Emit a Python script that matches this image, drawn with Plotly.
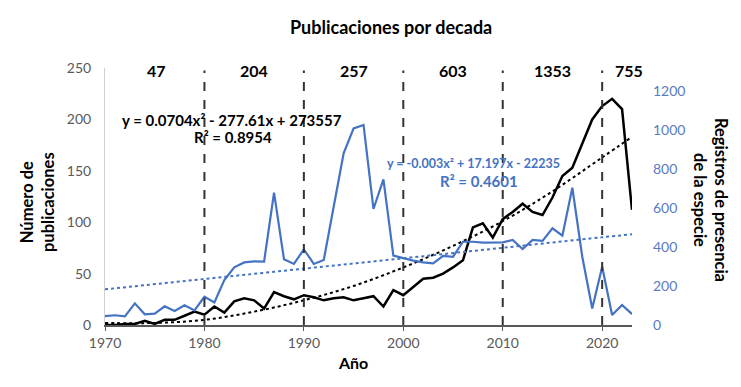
import plotly.graph_objects as go

years = list(range(1970, 2024))
publicaciones = [0, 0, 1, 1, 4, 1, 5, 5, 9, 13,
                 10, 18, 12, 23, 26, 24, 16, 32, 28, 25,
                 29, 27, 24, 26, 27, 24, 26, 28, 18, 34,
                 29, 37, 45, 46, 50, 56, 63, 95, 99, 85,
                 103, 110, 118, 110, 107, 124, 145, 153, 177, 200,
                 213, 220, 210, 112]
registros = [46, 50, 44, 111, 55, 58, 96, 72, 101, 75,
             145, 116, 230, 296, 321, 326, 325, 679, 337, 313,
             388, 313, 333, 607, 880, 1008, 1026, 595, 747, 356,
             342, 330, 321, 316, 354, 350, 427, 427, 422, 422,
             424, 436, 390, 436, 431, 496, 458, 704, 350, 85,
             299, 51, 103, 56]

# Excel polynomial trendlines
trend_pub_years = [1970, 1975, 1980, 1985, 1990, 1995, 2000, 2005, 2010, 2015, 2020, 2023]
trend_pub = [2, 2, 5, 13, 24, 38, 56, 77, 101, 130, 163, 183]
trend_reg_years = [1970, 1980, 1990, 2000, 2010, 2020, 2023]
trend_reg = [183, 236, 289, 342, 396, 450, 465]

decade_bounds = [1980, 1990, 2000, 2010, 2020]
decade_label_x = [1975.2, 1985, 1995, 2005, 2015, 2022.7]
decade_totals = ["47", "204", "257", "603", "1353", "755"]

eq_pub = ["y = 0.0704x² - 277.61x + 273557", "R² = 0.8954"]
eq_reg = ["y = -0.003x² + 17.197x - 22235", "R² = 0.4601"]

BLUE = "#4472C4"
FONT = "Lato"

# plot area in pixels
L, R, T, B = 105, 632, 68, 325

fig = go.Figure()
fig.add_trace(go.Scatter(x=years, y=registros, mode="lines", yaxis="y2",
                         line=dict(color=BLUE, width=2.2), name="Registros"))
fig.add_trace(go.Scatter(x=trend_reg_years, y=trend_reg, mode="lines", yaxis="y2",
                         line=dict(color=BLUE, width=2, dash="dot", shape="spline"),
                         name="Tendencia registros"))
fig.add_trace(go.Scatter(x=years, y=publicaciones, mode="lines",
                         line=dict(color="black", width=2.5), name="Publicaciones"))
fig.add_trace(go.Scatter(x=trend_pub_years, y=trend_pub, mode="lines",
                         line=dict(color="black", width=2, dash="dot", shape="spline"),
                         name="Tendencia publicaciones"))

shapes = []
for b in decade_bounds:
    shapes.append(dict(type="line", xref="x", yref="paper", x0=b, x1=b, y0=0, y1=0.99,
                       line=dict(color="#333333", width=2, dash="dash"), layer="above"))

annotations = []
for xv, t in zip(decade_label_x, decade_totals):
    annotations.append(dict(x=xv, y=0.99, xref="x", yref="paper", text=f"<b>{t}</b>",
                            showarrow=False, font=dict(family=FONT, size=16, color="black"),
                            yanchor="middle"))


def px_ann(xp, yp, text, color, size=13, angle=0):
    return dict(x=(xp - L) / (R - L), y=(B - yp) / (B - T), xref="paper", yref="paper",
                text=text, showarrow=False, font=dict(family=FONT, size=size, color=color),
                xanchor="center", yanchor="middle", textangle=angle)


annotations += [
    px_ann(391, 27, "<b>Publicaciones por decada</b>", "black", size=18),
    px_ann(232, 120, f"<b>{eq_pub[0]}</b>", "black", size=15),
    px_ann(233, 137, f"<b>{eq_pub[1]}</b>", "black", size=15),
    px_ann(473, 163, f"<b>{eq_reg[0]}</b>", BLUE, size=12.5),
    px_ann(479, 181, f"<b>{eq_reg[1]}</b>", BLUE, size=15),
    px_ann(38, 202, "<b>Número de<br>publicaciones</b>", "black", size=16.5, angle=-90),
    px_ann(711, 200, "<b>Registros de presencia<br>de la especie</b>", "black", size=16.5, angle=90),
    px_ann(353, 362, "<b>Año</b>", "black", size=16),
]

fig.update_layout(
    width=741, height=387,
    margin=dict(l=L, r=741 - R, t=T, b=387 - B, autoexpand=False),
    paper_bgcolor="white", plot_bgcolor="white",
    showlegend=False,
    font=dict(family=FONT, color="#595959", size=12),
    xaxis=dict(range=[1970, 2023], tickvals=[1970, 1980, 1990, 2000, 2010, 2020],
               showgrid=False, zeroline=False, showline=True, linecolor="#595959", linewidth=1.5,
               ticks="outside", ticklen=4, tickcolor="#595959",
               tickfont=dict(family=FONT, size=14, color="#595959")),
    yaxis=dict(range=[0, 250], tickvals=[0, 50, 100, 150, 200, 250], showgrid=False,
               zeroline=False, showline=True, linecolor="#d0d0d0", linewidth=1,
               ticklabelstandoff=10,
               tickfont=dict(family=FONT, size=14, color="#595959")),
    yaxis2=dict(range=[0, 1318], tickvals=[0, 200, 400, 600, 800, 1000, 1200], overlaying="y",
                side="right", showgrid=False, zeroline=False, showline=False,
                ticklabelstandoff=20,
                tickfont=dict(family=FONT, size=14, color="#5a7bbf")),
    shapes=shapes,
    annotations=annotations,
)

fig.write_html("out.html", config={"displayModeBar": False},
               post_script="document.body.style.margin='0';document.body.style.overflow='hidden';")
